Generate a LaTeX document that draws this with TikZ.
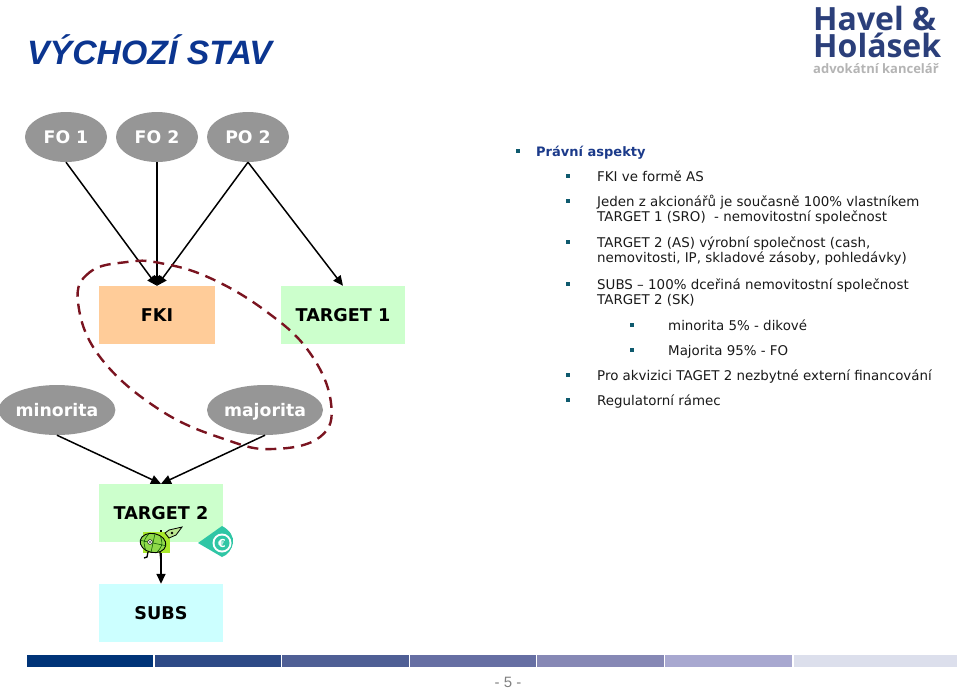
\documentclass[tikz,border=0pt]{standalone}
\usepackage{fontspec}
\setmainfont{DejaVu Sans}
\newfontfamily\titlefont{Liberation Sans}
\newfontfamily\logofont{Open Sans}
\definecolor{ovalgray}{HTML}{969696}
\definecolor{fkiorange}{HTML}{FFCC99}
\definecolor{tgreen}{HTML}{CCFFCC}
\definecolor{subscyan}{HTML}{CCFFFF}
\definecolor{dashred}{HTML}{7A1420}
\definecolor{titleblue}{HTML}{0B3590}
\definecolor{headblue}{HTML}{1B3A8A}
\definecolor{logoblue}{HTML}{2B3F7A}
\definecolor{logogray}{HTML}{B4B4B4}
\definecolor{bullet}{HTML}{0F5A6E}
\definecolor{eurogreen}{HTML}{2FC6A5}
\definecolor{turtlelime}{HTML}{A8E82A}
\definecolor{shellgreen}{HTML}{8FD94A}
\definecolor{bara}{HTML}{003478}
\definecolor{barb}{HTML}{2E4A86}
\definecolor{barc}{HTML}{4F5F95}
\definecolor{bard}{HTML}{666FA3}
\definecolor{bare}{HTML}{8688B5}
\definecolor{barf}{HTML}{A8A8D0}
\definecolor{barg}{HTML}{DCDFEC}
\usetikzlibrary{shapes.geometric,arrows.meta}
\tikzset{
  oval/.style={ellipse,fill=ovalgray,text=white,inner sep=0pt,text height=13pt,text depth=0pt,font=\bfseries\fontsize{17.3}{20}\selectfont},
  entity/.style={rectangle,inner sep=0pt,text height=13pt,text depth=0pt,font=\bfseries\fontsize{17.6}{20}\selectfont,text=black},
  link/.style={draw=black,line width=1.5pt,-{Triangle[length=10pt,width=9pt]}},
  body/.style={anchor=base west,inner sep=0pt,font=\fontsize{13.4}{15}\selectfont,text=black!90},
  sq/.style={fill=bullet,minimum size=3.6pt,inner sep=0pt,rectangle},
  bar/.style={rectangle,inner sep=0pt,minimum height=12pt,anchor=north west}
}
\begin{document}
\begin{tikzpicture}[x=1pt,y=-1pt]
\useasboundingbox (0,0) rectangle (960,689);
% title
\node[anchor=base west,inner sep=0pt,text=titleblue,font=\titlefont\bfseries\itshape\fontsize{33.8}{36}\selectfont] (title) at (27,64) {VÝCHOZÍ STAV};
% logo
\node[anchor=north west,inner sep=0pt,align=left,text=logoblue,font=\logofont\bfseries\fontsize{32}{27}\selectfont] (logo) at (813,6) {Havel \&\\Holásek\\[-11pt]{\color{logogray}\fontsize{13}{14}\selectfont advokátní kancelář}};
% ovals
\node[oval,minimum width=82pt,minimum height=50pt] (fo1) at (66,137) {FO 1};
\node[oval,minimum width=82pt,minimum height=50pt] (fo2) at (157,137) {FO 2};
\node[oval,minimum width=82pt,minimum height=50pt] (po2) at (248,137) {PO 2};
\node[oval,minimum width=116pt,minimum height=50pt] (minor) at (57,410) {minorita};
\node[oval,minimum width=116pt,minimum height=50pt] (major) at (265,410) {majorita};
% boxes
\node[entity,fill=fkiorange,minimum width=116pt,minimum height=58pt] (fki) at (157,315) {FKI};
\node[entity,fill=tgreen,minimum width=124pt,minimum height=58pt] (t1) at (343,315) {TARGET 1};
\node[entity,fill=tgreen,minimum width=124pt,minimum height=58pt] (t2) at (161,513) {TARGET 2};
\node[entity,fill=subscyan,minimum width=124pt,minimum height=58pt] (subs) at (161,613) {SUBS};
% connectors
\draw[link] (fo1.south) -- (fki.north);
\draw[link] (fo2.south) -- (fki.north);
\draw[link] (po2.south) -- (fki.north);
\draw[link] (po2.south) -- (t1.north);
\draw[link] (minor.south) -- (t2.north);
\draw[link] (major.south) -- (t2.north);
\coordinate (t2out) at (161,530);
\draw[link] (t2out) -- (subs.north);
% dashed loop
\draw[dashred,line width=2.4pt,dash pattern=on 11pt off 7pt]
  plot[smooth cycle,tension=0.7] coordinates {(127,262) (90,272) (78,302) (100,357) (160,410) (227,440) (273,449) (320,437) (331,403) (310,353) (267,312) (210,278) (160,263)};
% turtle
\fill[turtlelime] (143,532) rectangle (170,553);
\draw[black,line width=1.3pt] (148,552) -- (147,557) -- (144,558) (160,552) -- (161,562);
\draw[black,line width=0.9pt,fill=shellgreen,rotate around={-12:(153,543)}] (153,543) ellipse [x radius=13pt,y radius=9.5pt];
\begin{scope}[rotate around={-12:(153,543)}]
\draw[black!70!green,line width=0.5pt] (153,533.5) -- (153,552.5) (140,543) -- (166,543) (147,535) .. controls (143,543) .. (147,551) (159,535) .. controls (163,543) .. (159,551);
\end{scope}
\draw[black,fill=white,line width=0.5pt] (150,542) circle [radius=2.4pt];
\fill[black] (150,542) circle [radius=0.9pt];
\draw[black,line width=0.8pt,fill=shellgreen!60!white] (165,533) -- (169,530) -- (182,527) -- (176,535) -- (169,538) -- cycle;
\fill[black] (172,533) circle [radius=1.3pt];
% euro tag
\fill[eurogreen] (198,543) -- (222,526) .. controls (230,530) and (234,537) .. (233,543) .. controls (232,549) and (228,555) .. (222,557) -- cycle;
\fill[white] (222,543) circle [radius=9.5pt];
\fill[eurogreen] (222,543) circle [radius=7.5pt];
\node[inner sep=0pt,text=white,font=\bfseries\fontsize{11}{11}\selectfont] (euro) at (222,543) {€};
% text
\node[sq] (b0) at (518,151) {};
\node[anchor=base west,inner sep=0pt,text=headblue,font=\bfseries\fontsize{13}{15}\selectfont] (h0) at (536,156) {Právní aspekty};
\foreach \nm/\yy in {b1/176,b2/201,b3/242,b4/284,b7/375,b8/400}{\node[sq] (\nm) at (568,\yy) {};}
\foreach \nm/\yy in {b5/325,b6/350}{\node[sq] (\nm) at (632,\yy) {};}
\node[body] (l1) at (597,181) {FKI ve formě AS};
\node[body] (l2) at (597,206) {Jeden z akcionářů je současně 100\% vlastníkem};
\node[body] (l3) at (597,221) {TARGET 1 (SRO) \ - nemovitostní společnost};
\node[body] (l4) at (597,247) {TARGET 2 (AS) výrobní společnost (cash,};
\node[body] (l5) at (597,262) {nemovitosti, IP, skladové zásoby, pohledávky)};
\node[body] (l6) at (597,289) {SUBS – 100\% dceřiná nemovitostní společnost};
\node[body] (l7) at (597,304) {TARGET 2 (SK)};
\node[body] (l8) at (668,330) {minorita 5\% - dikové};
\node[body] (l9) at (668,355) {Majorita 95\% - FO};
\node[body] (l10) at (597,380) {Pro akvizici TAGET 2 nezbytné externí financování};
\node[body] (l11) at (597,405) {Regulatorní rámec};
% bar
\node[bar,fill=bara,minimum width=126pt] (s1) at (27,655) {};
\node[bar,fill=barb,minimum width=126pt] (s2) at (155,655) {};
\node[bar,fill=barc,minimum width=127pt] (s3) at (282,655) {};
\node[bar,fill=bard,minimum width=126pt] (s4) at (410,655) {};
\node[bar,fill=bare,minimum width=127pt] (s5) at (537,655) {};
\node[bar,fill=barf,minimum width=127pt] (s6) at (665,655) {};
\node[bar,fill=barg,minimum width=163pt] (s7) at (794,655) {};
\node[anchor=base,inner sep=0pt,text depth=0pt,text=black!50,font=\titlefont\fontsize{15}{15}\selectfont] (page) at (508,687) {- 5 -};
\end{tikzpicture}
\end{document}
